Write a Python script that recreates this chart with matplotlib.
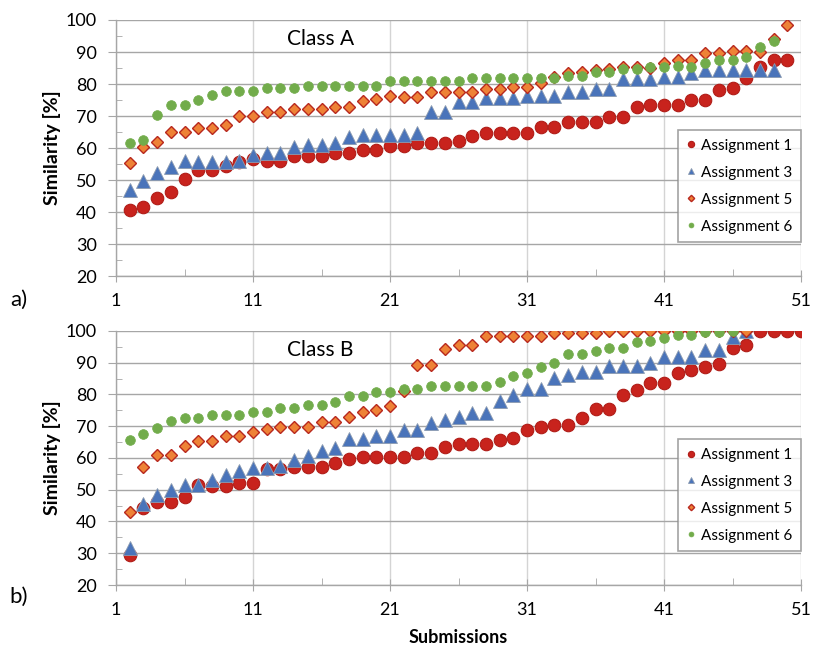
import numpy as np
import matplotlib
matplotlib.use('Agg')
import matplotlib.pyplot as plt
from matplotlib.ticker import MultipleLocator, FixedLocator

plt.rcParams['font.family'] = ['Lato', 'DejaVu Sans']

# %% data (similarity in %, sorted per assignment)
a1_A = [40.6, 41.5, 44.3, 46.4, 50.2, 53.1, 53.1, 54.5, 55.6, 56.5, 56.0, 56.0, 57.5, 57.5, 57.5,
        58.5, 58.5, 59.4, 59.4, 60.6, 60.6, 61.7, 61.5, 61.5, 62.3, 63.7, 64.6, 64.6, 64.6, 64.6,
        66.7, 66.7, 68.2, 68.2, 68.2, 69.8, 69.8, 72.9, 73.4, 73.4, 73.4, 75.0, 75.0, 78.1, 78.6,
        81.8, 85.4, 87.5, 87.5]
a3_A = [46.9, 49.8, 52.1, 54.2, 56.0, 55.7, 55.7, 55.7, 56.0, 57.8, 58.5, 58.5, 60.4, 60.9, 60.9,
        61.5, 63.3, 64.1, 64.1, 64.1, 64.1, 64.8, 71.4, 71.4, 74.5, 74.5, 75.5, 75.5, 75.5, 76.2,
        76.2, 76.2, 77.6, 77.6, 78.3, 78.3, 81.5, 81.5, 81.5, 82.3, 82.3, 83.3, 84.4, 84.4, 84.4,
        84.4, 84.4, 84.4]
a5_A = [55.2, 60.2, 61.9, 64.9, 64.9, 66.4, 66.4, 67.1, 70.0, 70.0, 71.4, 71.4, 72.3, 72.3, 72.3,
        72.9, 72.9, 74.8, 75.4, 76.2, 76.0, 76.0, 77.5, 77.5, 77.5, 77.5, 78.3, 78.3, 79.2, 79.2,
        80.4, 82.3, 83.5, 83.7, 84.4, 84.6, 85.2, 85.2, 84.9, 86.7, 87.5, 87.5, 89.6, 89.6, 90.4,
        90.4, 90.1, 94.0, 98.4]
a6_A = [61.5, 62.5, 70.3, 73.4, 73.4, 75.0, 76.5, 77.9, 77.9, 77.9, 78.6, 78.6, 78.6, 79.5, 79.5,
        79.5, 79.5, 79.5, 79.5, 80.9, 80.9, 80.9, 80.9, 80.9, 80.9, 81.8, 81.8, 81.8, 81.8, 81.8,
        81.8, 81.8, 82.5, 82.5, 83.9, 83.9, 84.6, 84.6, 85.4, 85.4, 85.6, 85.4, 86.7, 87.5, 87.5,
        88.5, 91.5, 93.5]

a1_B = [29.4, 44.4, 46.0, 46.0, 47.6, 51.5, 51.3, 51.3, 52.2, 52.2, 56.5, 56.5, 57.3, 57.3, 57.3,
        58.3, 59.7, 60.4, 60.4, 60.4, 60.4, 61.5, 61.5, 63.3, 64.3, 64.3, 64.3, 65.7, 66.4, 68.8,
        69.6, 70.4, 70.4, 72.5, 75.4, 75.4, 79.8, 81.4, 83.5, 83.5, 86.7, 87.7, 88.6, 89.5, 94.5,
        95.6, 100, 100, 100, 100]
a3_B = [31.5, 45.5, 48.3, 49.9, 51.5, 51.5, 53.1, 54.6, 56.0, 56.7, 56.7, 57.5, 59.2, 60.7, 62.2,
        63.0, 66.0, 66.0, 66.8, 66.8, 68.8, 68.8, 71.1, 72.0, 73.0, 74.3, 74.3, 78.0, 79.8, 81.7,
        81.7, 85.1, 86.1, 87.2, 87.0, 89.1, 89.1, 89.1, 89.8, 91.9, 91.9, 91.9, 94.0, 94.0, 98.2,
        100]
a5_B = [42.9, 57.1, 61.0, 61.0, 63.9, 65.4, 65.4, 67.0, 67.0, 68.3, 69.1, 69.9, 69.9, 69.9, 71.4,
        71.4, 73.0, 74.4, 75.1, 76.2, 81.1, 89.3, 89.3, 94.3, 95.4, 95.4, 98.5, 98.5, 98.5, 98.5,
        98.5, 99.3, 99.3, 99.3, 99.3, 100, 100, 100, 100, 100, 100, 100, 100, 100, 100, 100]
a6_B = [65.7, 67.6, 69.3, 71.7, 72.5, 72.5, 73.5, 73.5, 73.5, 74.6, 74.6, 75.6, 75.6, 76.7, 76.7,
        77.7, 79.6, 79.6, 80.7, 80.7, 81.7, 81.7, 82.7, 82.7, 82.7, 82.7, 82.7, 83.9, 85.7, 86.7,
        88.6, 89.9, 92.7, 92.7, 93.7, 94.5, 94.5, 96.4, 96.9, 97.7, 98.7, 98.7, 99.8, 99.8, 100]

labels = ['Assignment 1', 'Assignment 3', 'Assignment 5', 'Assignment 6']
x_ticks = [1, 11, 21, 31, 41, 51]

# %% styles
styles = [
    dict(marker='o', ms=9, mfc='#C8231D', mec='#B01C17', mew=0.8),
    dict(marker='^', ms=9.5, mfc='#4A74BA', mec='#8C9BB0', mew=0.6),
    dict(marker='D', ms=6.5, mfc='#EE8236', mec='#B8281E', mew=1.0),
    dict(marker='o', ms=7, mfc='#72AC4B', mec='#72AC4B', mew=0.5),
]


def draw_panel(ax, series, title):
    for vals, lab, st in zip(series, labels, styles):
        xs = np.arange(2, 2 + len(vals))
        ax.plot(xs, vals, ls='none', label=lab, zorder=3, **st)
    ax.set_xlim(1, 51)
    ax.set_ylim(20, 100)
    ax.xaxis.set_major_locator(FixedLocator(x_ticks))
    ax.xaxis.set_minor_locator(FixedLocator([6, 16, 26, 36, 46]))
    ax.yaxis.set_major_locator(MultipleLocator(10))
    ax.yaxis.set_minor_locator(MultipleLocator(5))
    ax.grid(True, which='major', axis='y', color='#a6a6a6', lw=1.0, zorder=0)
    ax.grid(True, which='major', axis='x', color='#d4d4d4', lw=1.0, zorder=0)
    for s in ['top', 'right']:
        ax.spines[s].set_visible(False)
    for s in ['left', 'bottom']:
        ax.spines[s].set_color('#a6a6a6')
        ax.spines[s].set_linewidth(1.0)
    ax.tick_params(axis='y', which='major', direction='out', length=6, color='#a6a6a6',
                   labelsize=13, pad=8)
    ax.tick_params(axis='y', which='minor', direction='in', length=4, color='#a6a6a6')
    ax.tick_params(axis='x', which='major', direction='inout', length=9, color='#a6a6a6',
                   labelsize=13, pad=8)
    ax.tick_params(axis='x', which='minor', direction='in', length=5, color='#a6a6a6')
    ax.set_ylabel('Similarity [%]', fontsize=14, fontweight='bold', labelpad=3)
    ax.text(0.298, 0.925, title, transform=ax.transAxes, ha='center', va='center', fontsize=15)
    leg = ax.legend(loc='lower right', bbox_to_anchor=(1.0, 0.133), borderaxespad=0,
                    fontsize=11, frameon=True, fancybox=False, markerscale=0.5,
                    handlelength=0.6, handletextpad=0.4, labelspacing=0.85, borderpad=0.55)
    leg.get_frame().set_edgecolor('#8c8c8c')
    leg.get_frame().set_linewidth(1.2)


fig = plt.figure(figsize=(8.13, 6.45), dpi=100)
axA = fig.add_axes([0.1427, 0.572, 0.8426, 0.397])
axB = fig.add_axes([0.1427, 0.093, 0.8426, 0.394])

draw_panel(axA, [a1_A, a3_A, a5_A, a6_A], 'Class A')
draw_panel(axB, [a1_B, a3_B, a5_B, a6_B], 'Class B')
axB.set_xlabel('Submissions', fontsize=13, fontweight='bold', labelpad=8)

fig.text(0.012, 0.535, 'a)', fontsize=16, va='center')
fig.text(0.012, 0.075, 'b)', fontsize=16, va='center')

fig.savefig('out.png', dpi=100)
